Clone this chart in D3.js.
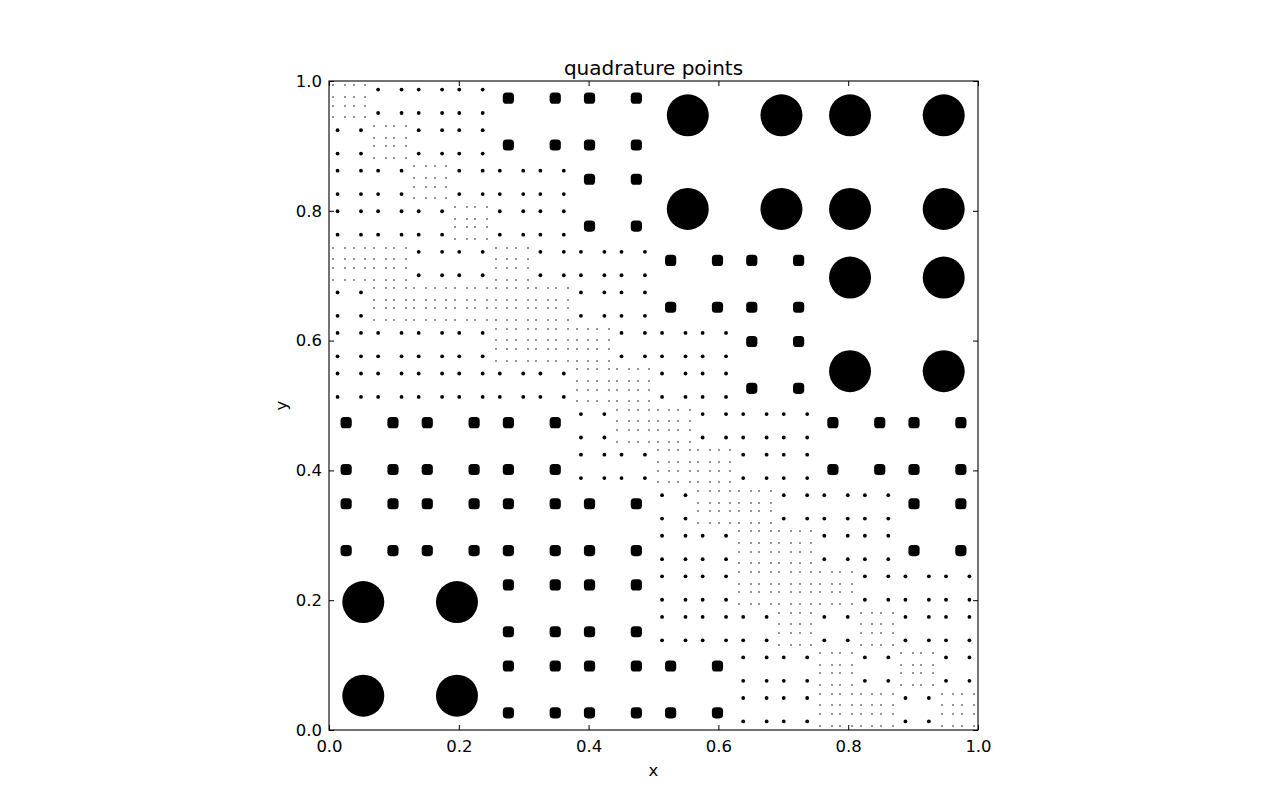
<!DOCTYPE html>
<html lang="en">
<head>
<meta charset="utf-8">
<script src="https://d3js.org/d3.v7.min.js"></script>
<style>
  body { margin: 0; background: #fff; }
  svg text { font-family: "DejaVu Sans", sans-serif; fill: #000; }
</style>
</head>
<body>
<div id="chart"></div>
<script>
const title = "quadrature points";
const xLabel = "x";
const yLabel = "y";
const xTicks = [0.0, 0.2, 0.4, 0.6, 0.8, 1.0];
const yTicks = [0.0, 0.2, 0.4, 0.6, 0.8, 1.0];

// 2-point Gauss-Legendre nodes on [0,1]
const gaussNodes = [0.2113249, 0.7886751];

// level of the quadtree cell covering each 1/16 square, top row (y near 1) first.
// 5 = that square is split once more into four level-5 cells
const levelMap = [
  "5444333322222222",
  "4544333322222222",
  "4454443322222222",
  "4445443322222222",
  "5544544433332222",
  "4555554433332222",
  "4444555444332222",
  "4444445544332222",
  "3333334554443333",
  "3333334455443333",
  "3333333345544433",
  "3333333344554433",
  "2222333344555444",
  "2222333344454544",
  "2222333333445454",
  "2222333333445545"
];

function buildPoints() {
  const seen = new Set();
  const pts = [];
  function addCell(L, ci, cj) {
    const key = L + ":" + ci + ":" + cj;
    if (seen.has(key)) return;
    seen.add(key);
    const h = 1 / Math.pow(2, L);
    gaussNodes.forEach(gx => gaussNodes.forEach(gy => {
      pts.push({ x: (ci + gx) * h, y: (cj + gy) * h, level: L });
    }));
  }
  levelMap.forEach((row, r) => {
    const j4 = 15 - r;
    row.split("").forEach((ch, i4) => {
      const L = +ch;
      if (L === 5) {
        [0, 1].forEach(di => [0, 1].forEach(dj => addCell(5, 2 * i4 + di, 2 * j4 + dj)));
      } else {
        const f = Math.pow(2, 4 - L);
        addCell(L, Math.floor(i4 / f), Math.floor(j4 / f));
      }
    });
  });
  return pts;
}

function draw() {
  const width = 1275, height = 812;
  const left = 329, right = 978, top = 81, bottom = 730;

  const x = d3.scaleLinear().domain([0, 1]).range([left, right]);
  const y = d3.scaleLinear().domain([0, 1]).range([bottom, top]);

  const svg = d3.select("#chart").append("svg")
    .attr("width", width)
    .attr("height", height)
    .attr("viewBox", [0, 0, width, height]);

  const pts = buildPoints();

  // big and medium markers
  svg.append("g").selectAll("circle")
    .data(pts.filter(d => d.level === 2 || d.level === 4))
    .join("circle")
    .attr("cx", d => x(d.x))
    .attr("cy", d => y(d.y))
    .attr("r", d => d.level === 2 ? 21 : 1.9)
    .attr("fill", "#000");

  svg.append("g").selectAll("rect")
    .data(pts.filter(d => d.level === 3))
    .join("rect")
    .attr("x", d => x(d.x) - 5.6)
    .attr("y", d => y(d.y) - 5.6)
    .attr("width", 11.2)
    .attr("height", 11.2)
    .attr("rx", 3.6)
    .attr("fill", "#000");

  svg.append("g").selectAll("rect")
    .data(pts.filter(d => d.level === 5))
    .join("rect")
    .attr("x", d => Math.round(x(d.x)) - 1)
    .attr("y", d => Math.round(y(d.y)) - 1)
    .attr("width", 2)
    .attr("height", 2)
    .attr("fill", "#959595")
    .attr("shape-rendering", "crispEdges");

  const fmt = d3.format(".1f");
  const fs = "16.5px";

  svg.append("g")
    .attr("transform", `translate(0,${bottom})`)
    .call(d3.axisBottom(x).tickValues(xTicks).tickFormat(fmt).tickSizeInner(-5).tickSizeOuter(0).tickPadding(10))
    .call(g => g.select(".domain").remove())
    .call(g => g.selectAll("text").style("font-size", fs));

  svg.append("g")
    .attr("transform", `translate(${left},0)`)
    .call(d3.axisLeft(y).tickValues(yTicks).tickFormat(fmt).tickSizeInner(-5).tickSizeOuter(0).tickPadding(7))
    .call(g => g.select(".domain").remove())
    .call(g => g.selectAll("text").style("font-size", fs));

  svg.append("g")
    .attr("transform", `translate(0,${top})`)
    .call(d3.axisTop(x).tickValues(xTicks).tickFormat("").tickSizeInner(-5).tickSizeOuter(0))
    .call(g => g.select(".domain").remove());

  svg.append("g")
    .attr("transform", `translate(${right},0)`)
    .call(d3.axisRight(y).tickValues(yTicks).tickFormat("").tickSizeInner(-5).tickSizeOuter(0))
    .call(g => g.select(".domain").remove());

  svg.selectAll(".tick line").attr("stroke", "#000");

  svg.append("rect")
    .attr("x", left)
    .attr("y", top)
    .attr("width", right - left)
    .attr("height", bottom - top)
    .attr("fill", "none")
    .attr("stroke", "#000")
    .attr("stroke-width", 1.1);

  svg.append("text")
    .attr("x", (left + right) / 2)
    .attr("y", 74.5)
    .attr("text-anchor", "middle")
    .style("font-size", "20px")
    .text(title);

  svg.append("text")
    .attr("x", (left + right) / 2)
    .attr("y", 776)
    .attr("text-anchor", "middle")
    .style("font-size", fs)
    .text(xLabel);

  svg.append("text")
    .attr("transform", `translate(287,${(top + bottom) / 2}) rotate(-90)`)
    .attr("text-anchor", "middle")
    .style("font-size", fs)
    .text(yLabel);
}

draw();
</script>
</body>
</html>
